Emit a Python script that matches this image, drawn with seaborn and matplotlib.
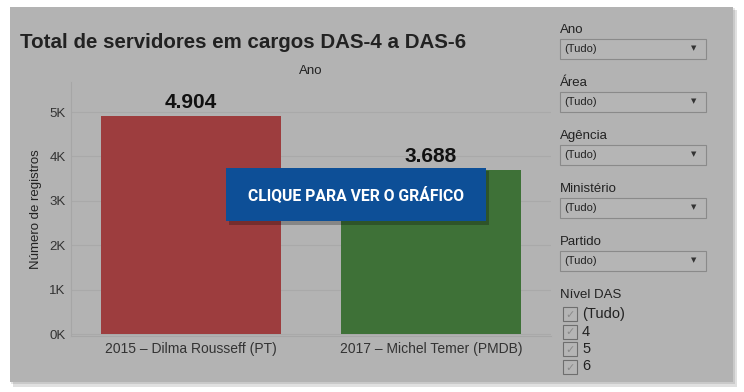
import matplotlib
matplotlib.use('Agg')
import matplotlib.pyplot as plt
from matplotlib.patches import Rectangle
import seaborn as sns

# dados
governos = ['2015 – Dilma Rousseff (PT)', '2017 – Michel Temer (PMDB)']
registros = [4904, 3688]
cores = ['#9d3d3e', '#3e7137']
yticks = [0, 1000, 2000, 3000, 4000, 5000]
ytick_labels = ['0K', '1K', '2K', '3K', '4K', '5K']
filtros = ['Ano', 'Área', 'Agência', 'Ministério', 'Partido']
niveis = ['(Tudo)', '4', '5', '6']

sns.set_style('white')
plt.rcParams['font.family'] = ['Liberation Sans', 'DejaVu Sans']

W, H = 744, 392
fig = plt.figure(figsize=(W / 100, H / 100), dpi=100)
fig.patch.set_facecolor('white')


def fx(px):
    return px / W


def fy(py):
    return 1 - py / H


def rect(x0, y0, x1, y1, **kw):
    r = Rectangle((fx(x0), fy(y1)), fx(x1) - fx(x0), fy(y0) - fy(y1),
                  transform=fig.transFigure, **kw)
    fig.patches.append(r)
    return r


# painel cinza com sombra
rect(13, 10, 737, 387, facecolor='#000000', alpha=0.12, edgecolor='none', zorder=-2)
rect(11, 8, 735, 384, facecolor='#000000', alpha=0.10, edgecolor='none', zorder=-2)
rect(10, 7, 733, 382, facecolor='#b3b3b3', edgecolor='none', zorder=-1)

ax = fig.add_axes([fx(71), fy(336), fx(551) - fx(71), fy(82) - fy(336)])
ax.set_facecolor('none')
ax.set_zorder(2)

sns.barplot(x=governos, y=registros, hue=governos, palette=cores,
            width=0.75, saturation=1, legend=False, linewidth=0, ax=ax, zorder=3)

for cont, v in zip(ax.containers, registros):
    ax.bar_label(cont, labels=[f'{v:,}'.replace(',', '.')], padding=3,
                 fontsize=15, fontweight='bold', color='#111111')

ax.set_ylim(-45, 5676)
ax.set_yticks(yticks)
ax.set_yticklabels(ytick_labels)
ax.yaxis.grid(True, color='#a9a9a9', linewidth=0.8, zorder=0)
ax.set_axisbelow(True)
ax.tick_params(axis='y', length=0, pad=4, labelsize=9.5, labelcolor='#333333')
ax.tick_params(axis='x', length=0, pad=4, labelsize=10, labelcolor='#333333')
ax.set_xlabel('')
ax.set_ylabel('Número de registros', fontsize=9.5, color='#222222', labelpad=5)
ax.set_title('Ano', fontsize=9.5, color='#222222', pad=6)
for s in ['top', 'right']:
    ax.spines[s].set_visible(False)
for s in ['left', 'bottom']:
    ax.spines[s].set_color('#a6a6a6')
    ax.spines[s].set_linewidth(0.8)

fig.text(fx(20), fy(42), 'Total de servidores em cargos DAS-4 a DAS-6',
         fontsize=14.8, fontweight='bold', color='#222222', va='center', ha='left')

# filtros
label_y = [30, 83, 136, 189, 242]
for nome, ly in zip(filtros, label_y):
    fig.text(fx(560), fy(ly), nome, fontsize=9.5, color='#222222', va='center')
    rect(560, ly + 9, 706, ly + 29, facecolor='#b5b5b5', edgecolor='#8a8a8a',
         linewidth=0.8, zorder=1)
    fig.text(fx(564), fy(ly + 19), '(Tudo)', fontsize=8, color='#222222', va='center')
    fig.text(fx(694), fy(ly + 18), '▼', fontsize=5, color='#333333',
             va='center', ha='center', family='DejaVu Sans')

fig.text(fx(560), fy(295), 'Nível DAS', fontsize=9.5, color='#222222', va='center')
for i, n in enumerate(niveis):
    cy = 314 + i * 17.5
    rect(563, cy - 7, 577, cy + 7, facecolor='#b5b5b5', edgecolor='#6e6e6e',
         linewidth=0.8, zorder=1)
    fig.text(fx(570), fy(cy + 1), '✓', fontsize=8, color='#8a8a8a', va='center',
             ha='center', family='DejaVu Sans')
    fig.text(fx(582), fy(cy), n, fontsize=10.5, color='#222222', va='center')

# botao azul
rect(229, 171, 489, 225, facecolor='#000000', alpha=0.25, edgecolor='none', zorder=5)
rect(226, 168, 486, 221, facecolor='#0d4f97', edgecolor='none', zorder=6)
fig.text(fx(356), fy(195), 'CLIQUE PARA VER O GRÁFICO', fontsize=11.3,
         fontweight='bold', color='white', va='center', ha='center', zorder=7,
         family=['Liberation Sans Narrow', 'Roboto', 'DejaVu Sans'])

fig.savefig('out.png', dpi=100)
